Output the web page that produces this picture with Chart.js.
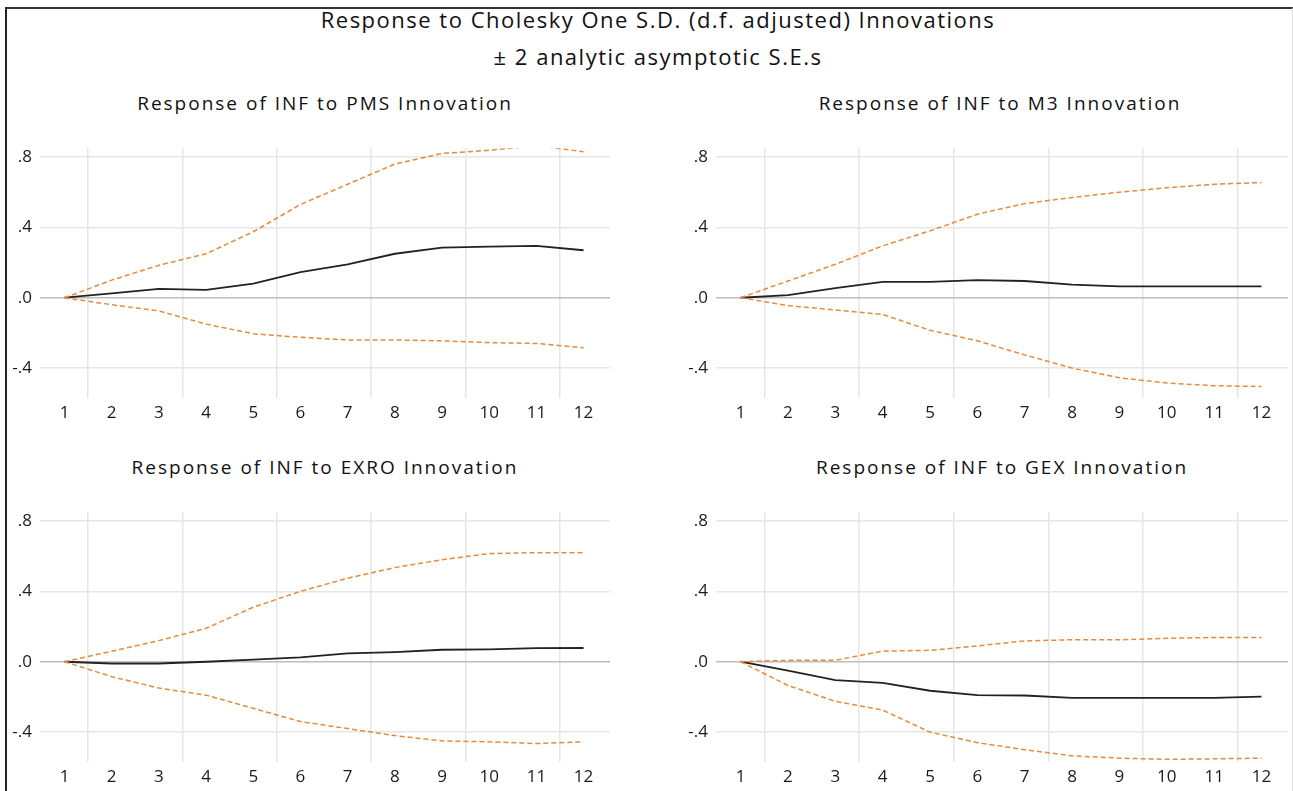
<!DOCTYPE html>
<html>
<head>
<meta charset="utf-8">
<script src="https://cdn.jsdelivr.net/npm/chart.js@4.4.1/dist/chart.umd.min.js"></script>
<style>
  body { margin: 0; background: #fff; font-family: 'Open Sans', sans-serif; color: #111; }
  #wrap { position: relative; width: 1293px; height: 791px; overflow: hidden; background: #fff; }
  #frame { position: absolute; left: 5px; top: 7px; width: 1285px; height: 800px;
           border-top: 2px solid #333; border-left: 2px solid #222; border-right: 1px solid #ddd; }
  .title { position: absolute; left: 0; width: 1316px; text-align: center; font-size: 22px;
           line-height: 26px; letter-spacing: 1.5px; }
  .sub { position: absolute; width: 640px; text-align: center; font-size: 19px; line-height: 22px;
         letter-spacing: 2px; }
  .box { position: absolute; height: 300px; }
</style>
</head>
<body>
<div id="wrap">
  <div id="frame"></div>
  <div class="title" style="top:6px">Response to Cholesky One S.D. (d.f. adjusted) Innovations</div>
  <div class="title" style="top:43px">± 2 analytic asymptotic S.E.s</div>

  <div class="sub" style="left:5px;top:92px">Response of INF to PMS Innovation</div>
  <div class="sub" style="left:680px;top:92px">Response of INF to M3 Innovation</div>
  <div class="sub" style="left:5px;top:456px">Response of INF to EXRO Innovation</div>
  <div class="sub" style="left:682px;top:456px">Response of INF to GEX Innovation</div>

  <div class="box" style="left:0;top:130px;width:640px"><canvas id="pmsChart"></canvas></div>
  <div class="box" style="left:640px;top:130px;width:653px"><canvas id="m3Chart"></canvas></div>
  <div class="box" style="left:0;top:494px;width:640px"><canvas id="exroChart"></canvas></div>
  <div class="box" style="left:640px;top:494px;width:653px"><canvas id="gexChart"></canvas></div>
</div>

<script>
const periods = [1, 2, 3, 4, 5, 6, 7, 8, 9, 10, 11, 12];
const yTicks = [-0.4, 0, 0.4, 0.8];
const gridTicks = [1.5, 3.5, 5.5, 7.5, 9.5, 11.5];

// response of INF to PMS
const pmsResponse = [0, 0.025, 0.05, 0.045, 0.08, 0.145, 0.19, 0.25, 0.285, 0.29, 0.295, 0.27];
const pmsUpper = [0, 0.10, 0.185, 0.25, 0.375, 0.53, 0.645, 0.76, 0.82, 0.838, 0.865, 0.83];
const pmsLower = [0, -0.04, -0.075, -0.15, -0.205, -0.225, -0.24, -0.24, -0.245, -0.255, -0.26, -0.285];

// response of INF to M3
const m3Response = [0, 0.015, 0.055, 0.09, 0.09, 0.1, 0.095, 0.075, 0.065, 0.065, 0.065, 0.065];
const m3Upper = [0, 0.095, 0.19, 0.295, 0.38, 0.475, 0.535, 0.57, 0.6, 0.625, 0.645, 0.655];
const m3Lower = [0, -0.045, -0.07, -0.095, -0.185, -0.245, -0.325, -0.4, -0.455, -0.485, -0.5, -0.505];

// response of INF to EXRO
const exroResponse = [0, -0.01, -0.01, 0.0, 0.012, 0.025, 0.047, 0.055, 0.068, 0.07, 0.077, 0.078];
const exroUpper = [0, 0.06, 0.12, 0.19, 0.31, 0.4, 0.475, 0.535, 0.58, 0.615, 0.62, 0.62];
const exroLower = [0, -0.085, -0.15, -0.19, -0.265, -0.34, -0.38, -0.42, -0.45, -0.455, -0.465, -0.455];

// response of INF to GEX
const gexResponse = [0, -0.05, -0.105, -0.12, -0.165, -0.19, -0.192, -0.205, -0.205, -0.205, -0.205, -0.198];
const gexUpper = [0, 0.008, 0.008, 0.06, 0.065, 0.09, 0.118, 0.125, 0.125, 0.133, 0.138, 0.138];
const gexLower = [0, -0.135, -0.225, -0.275, -0.4, -0.46, -0.5, -0.535, -0.548, -0.555, -0.552, -0.548];

const ORANGE = '#e8893f';
const tickFont = { family: 'Open Sans', size: 17 };

function toPoints(values) {
    return values.map((v, i) => ({ x: periods[i], y: v }));
}

function fmtTick(v) {
    if (Math.abs(v) < 1e-9) return '.0';
    return (v < 0 ? '-' : '') + '.' + Math.round(Math.abs(v) * 10);
}

function renderIrfChart(id, response, upper, lower, axisWidth, rightPad) {
    const ctx = document.getElementById(id).getContext('2d');
    new Chart(ctx, {
        type: 'line',
        data: {
            datasets: [
                { data: toPoints(upper), borderColor: ORANGE, borderWidth: 1.5, borderDash: [5, 3] },
                { data: toPoints(lower), borderColor: ORANGE, borderWidth: 1.5, borderDash: [5, 3] },
                { data: toPoints(response), borderColor: '#222', borderWidth: 1.8 }
            ]
        },
        options: {
            responsive: true,
            maintainAspectRatio: false,
            animation: false,
            elements: { point: { radius: 0 }, line: { tension: 0 } },
            layout: { padding: { top: 18, right: rightPad, left: 0, bottom: 0 } },
            plugins: { legend: { display: false }, tooltip: { enabled: false }, title: { display: false } },
            scales: {
                x: {
                    type: 'linear',
                    min: 0.48,
                    max: 12.56,
                    afterBuildTicks: s => { s.ticks = periods.map(v => ({ value: v })); },
                    afterFit: s => { s.height = 32; },
                    grid: { display: false },
                    border: { display: false },
                    ticks: { color: '#1a1a1a', font: tickFont, padding: -3, maxRotation: 0, autoSkip: false }
                },
                xg: {
                    type: 'linear',
                    position: 'top',
                    min: 0.48,
                    max: 12.56,
                    afterBuildTicks: s => { s.ticks = gridTicks.map(v => ({ value: v })); },
                    afterFit: s => { s.height = 0; },
                    grid: { color: '#e6e6e6', lineWidth: 1.5, drawTicks: false },
                    border: { display: false },
                    ticks: { display: false }
                },
                y: {
                    min: -0.57,
                    max: 0.85,
                    afterBuildTicks: s => { s.ticks = yTicks.map(v => ({ value: v })); },
                    afterFit: s => { s.width = axisWidth; },
                    grid: {
                        color: c => (c.tick && Math.abs(c.tick.value) < 1e-9) ? '#bdbdbd' : '#e6e6e6',
                        lineWidth: 1.5,
                        drawTicks: false
                    },
                    border: { display: false },
                    ticks: { color: '#1a1a1a', font: tickFont, padding: 8, callback: fmtTick }
                }
            }
        }
    });
}

renderIrfChart('pmsChart', pmsResponse, pmsUpper, pmsLower, 40, 30);
renderIrfChart('m3Chart', m3Response, m3Upper, m3Lower, 76, 5);
renderIrfChart('exroChart', exroResponse, exroUpper, exroLower, 40, 30);
renderIrfChart('gexChart', gexResponse, gexUpper, gexLower, 76, 5);
</script>
</body>
</html>
